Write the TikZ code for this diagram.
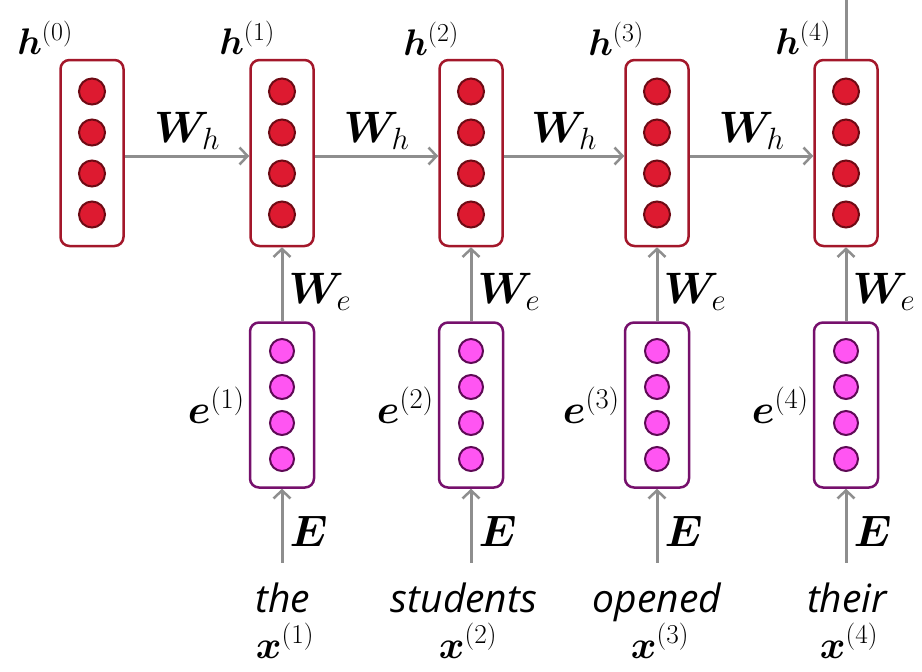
\RequirePackage{fix-cm}
\documentclass[tikz,border=0pt]{standalone}
\usepackage{amsmath}
\usepackage{bm}
\usepackage{fontspec}
\newfontfamily\wordfont{Open Sans}
\usetikzlibrary{arrows.meta}
\definecolor{hred}{HTML}{A3172A}
\definecolor{hdark}{HTML}{6E0A14}
\definecolor{hfill}{HTML}{DD1A30}
\definecolor{epurple}{HTML}{76106C}
\definecolor{edark}{HTML}{5E0A55}
\definecolor{efill}{HTML}{FF55F2}
\definecolor{agray}{HTML}{8E8E8E}
\begin{document}
\begin{tikzpicture}[x=1pt,y=-1pt,
  hbox/.style={draw=hred, line width=2.5pt, rounded corners=9pt, minimum width=63pt, minimum height=186pt, inner sep=0pt},
  ebox/.style={draw=epurple, line width=2.5pt, rounded corners=9pt, minimum width=64pt, minimum height=165pt, inner sep=0pt},
  hdot/.style={circle, draw=hdark, fill=hfill, line width=2pt, minimum size=26pt, inner sep=0pt},
  edot/.style={circle, draw=edark, fill=efill, line width=2pt, minimum size=24pt, inner sep=0pt},
  arr/.style={draw=agray, line width=3pt, -{Straight Barb[length=8pt,width=17pt,line width=2.5pt]}},
  plainline/.style={draw=agray, line width=3pt},
  hlab/.style={font=\fontsize{37}{44}\selectfont, inner sep=0pt, anchor=base},
  wlab/.style={font=\fontsize{44}{52}\selectfont, inner sep=0pt},
  elab/.style={font=\fontsize{41}{48}\selectfont, inner sep=0pt},
  Elab/.style={font=\fontsize{44}{52}\selectfont, inner sep=0pt},
  xlab/.style={font=\fontsize{39}{46}\selectfont, inner sep=0pt, anchor=base},
  word/.style={font=\wordfont\itshape\fontsize{39}{46}\selectfont, anchor=base, inner sep=0pt, text height=29pt, text depth=5pt}
]
\fill[white] (0,0) rectangle (922,672);
\useasboundingbox (0,0) rectangle (922,672);

% hidden state boxes
\foreach \n/\x in {0/92,1/282,2/471,3/657,4/846} {
  \node[hbox] (h\n) at (\x,153) {};
  \foreach \k/\dy in {1/-61.5,2/-20.5,3/20.5,4/61.5}
    \node[hdot] (h\n-\k) at (\x,153+\dy) {};
}
% embedding boxes
\foreach \n/\x in {1/282,2/471,3/657,4/846} {
  \node[ebox] (e\n) at (\x,405) {};
  \foreach \k/\dy in {1/-54,2/-18,3/18,4/54}
    \node[edot] (e\n-\k) at (\x,405+\dy) {};
}

% h labels
\node[hlab] (lh0) at (45,54) {$\bm{h}^{(0)}$};
\node[hlab] (lh1) at (247,54) {$\bm{h}^{(1)}$};
\node[hlab] (lh2) at (431,55) {$\bm{h}^{(2)}$};
\node[hlab] (lh3) at (616,55) {$\bm{h}^{(3)}$};
\node[hlab] (lh4) at (803,54) {$\bm{h}^{(4)}$};

% recurrent arrows
\draw[arr] ([yshift=-3pt]h0.east) -- node[wlab, above=5pt] (wh1) {$\bm{W}_h$} ([yshift=-3pt]h1.west);
\draw[arr] ([yshift=-3pt]h1.east) -- node[wlab, above=5pt] (wh2) {$\bm{W}_h$} ([yshift=-3pt]h2.west);
\draw[arr] ([yshift=-3pt]h2.east) -- node[wlab, above=5pt] (wh3) {$\bm{W}_h$} ([yshift=-3pt]h3.west);
\draw[arr] ([yshift=-3pt]h3.east) -- node[wlab, above=5pt] (wh4) {$\bm{W}_h$} ([yshift=-3pt]h4.west);

% output line
\coordinate (t4) at (846,0);
\draw[plainline] (h4.north) -- (t4);

% embedding to hidden
\foreach \n in {1,2,3,4} {
  \draw[arr] (e\n.north) -- node[wlab, pos=0.4, right=5pt] (we\n) {$\bm{W}_e$} (h\n.south);
  \node[elab, left=4pt] (le\n) at (e\n.west) {$\bm{e}^{(\n)}$};
}

% words
\node[word] (w1) at (283,612) {the};
\node[word] (w2) at (464,612) {students};
\node[word] (w3) at (657,612) {opened};
\node[word] (w4) at (847,612) {their};
\node[xlab] (x1) at (285,658) {$\bm{x}^{(1)}$};
\node[xlab] (x2) at (468,658) {$\bm{x}^{(2)}$};
\node[xlab] (x3) at (660,658) {$\bm{x}^{(3)}$};
\node[xlab] (x4) at (849,658) {$\bm{x}^{(4)}$};

\foreach \n in {1,2,3,4} {
  \draw[arr, shorten <=20pt] (e\n.south |- w\n.north) -- node[Elab, pos=0.55, right=6pt] (E\n) {$\bm{E}$} (e\n.south);
}
\end{tikzpicture}
\end{document}
